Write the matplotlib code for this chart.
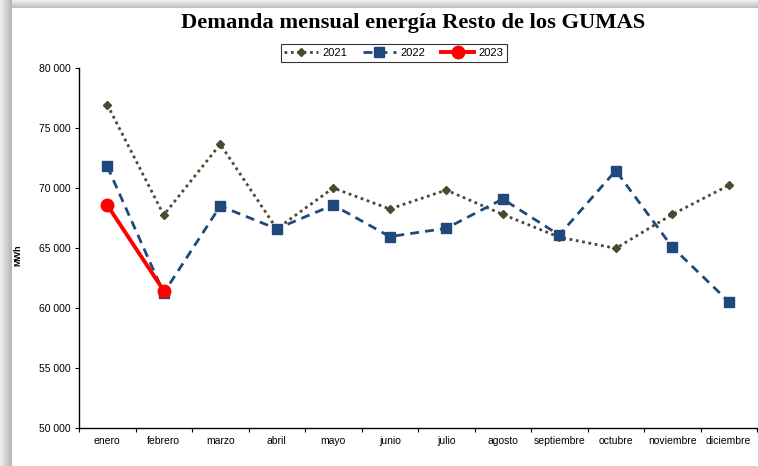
import numpy as np
import matplotlib
matplotlib.use('Agg')
import matplotlib.pyplot as plt
from matplotlib.ticker import FuncFormatter, FixedLocator

# data
meses = ['enero', 'febrero', 'marzo', 'abril', 'mayo', 'junio', 'julio',
         'agosto', 'septiembre', 'octubre', 'noviembre', 'diciembre']
d2021 = [76950, 67750, 73650, 66600, 70000, 68250, 69830, 67800, 65900, 64970, 67800, 70220]
d2022 = [71800, 61250, 68500, 66600, 68580, 65950, 66640, 69080, 66080, 71450, 65080, 60530]
d2023 = [68580, 61440]

plt.rcParams['font.family'] = ['Liberation Sans', 'DejaVu Sans']

W, H = 758, 466
fig = plt.figure(figsize=(W / 100, H / 100), dpi=100)

# shadow frame (grey gradient left and top)
bg = fig.add_axes([0, 0, 1, 1])
img = np.ones((H, W))
for i in range(12):
    img[:, i] = np.minimum(img[:, i], 0.93 - 0.22 * i / 11)
for j in range(8):
    img[j, 12:] = np.minimum(img[j, 12:], 0.93 - 0.18 * j / 7)
img[8:, 12:] = 1.0
bg.imshow(img, cmap='gray', vmin=0, vmax=1, aspect='auto', interpolation='nearest')
bg.axis('off')

ax = fig.add_axes([79 / W, 1 - 428 / H, (757 - 79) / W, (428 - 68) / H])
ax.patch.set_alpha(0)
x = np.arange(len(meses))

ax.plot(x, d2021, linestyle=(0, (1, 1.3)), color='#4F4830', linewidth=2,
        marker='D', markersize=4.5, label='2021')
ax.plot(x, d2022, linestyle=(0, (3.2, 2.2)), color='#1F497D', linewidth=2,
        marker='s', markersize=7.5, label='2022')
ax.plot(x[:len(d2023)], d2023, linestyle='-', color='#FF0000', linewidth=2.8,
        marker='o', markersize=9, label='2023')

ax.set_xlim(-0.5, 11.5)
ax.set_ylim(50000, 80000)
ax.set_yticks(np.arange(50000, 80001, 5000))
ax.yaxis.set_major_formatter(FuncFormatter(lambda v, p: '{:,.0f}'.format(v).replace(',', ' ')))
ax.xaxis.set_major_locator(FixedLocator(np.arange(-0.5, 12, 1)))
ax.xaxis.set_major_formatter(FuncFormatter(lambda v, p: ''))
ax.xaxis.set_minor_locator(FixedLocator(x))
ax.set_xticklabels(meses, minor=True)
ax.tick_params(axis='x', which='minor', length=0, pad=6, labelsize=7.5)
ax.tick_params(axis='x', which='major', length=3, width=0.8, direction='out')
ax.tick_params(axis='y', length=3, width=0.8, labelsize=7.5, pad=3)
for s in ['top', 'right']:
    ax.spines[s].set_visible(False)
for s in ['left', 'bottom']:
    ax.spines[s].set_linewidth(1.0)

fig.text(18 / W, 1 - 255 / H, 'MWh', rotation=90, ha='center', va='center',
         fontsize=6.5, fontweight='bold')
fig.text(413 / W, 1 - 23 / H, 'Demanda mensual energía Resto de los GUMAS',
         ha='center', va='center', fontsize=16.2, fontweight='bold',
         family='Liberation Serif')

leg = fig.legend(loc='center', bbox_to_anchor=(394 / W, 1 - 53 / H), ncol=3,
                 fontsize=8, frameon=True, fancybox=False, handlelength=3,
                 columnspacing=1.4, handletextpad=0.4, borderpad=0.35)
leg.get_frame().set_edgecolor('black')
leg.get_frame().set_linewidth(0.8)

fig.savefig('out.png', dpi=100)
